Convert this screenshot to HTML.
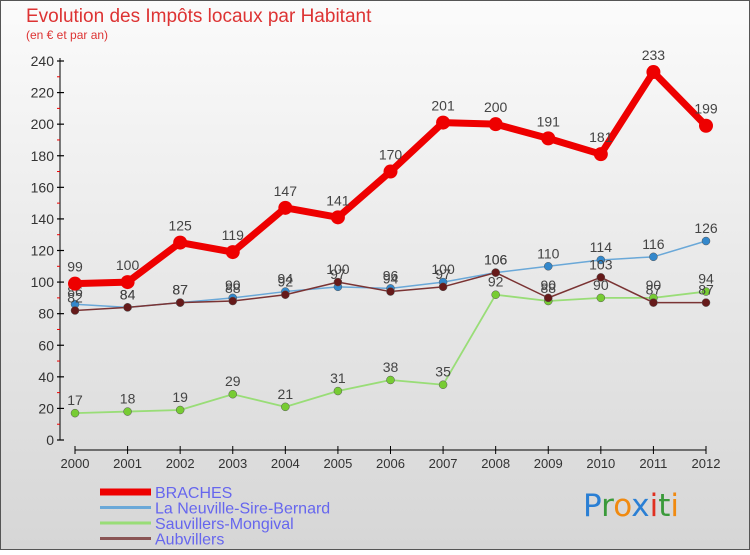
<!DOCTYPE html>
<html><head><meta charset="utf-8"><style>
body{margin:0;width:750px;height:550px;overflow:hidden;font-family:"Liberation Sans",sans-serif}
</style></head><body>
<svg id="c" width="750" height="550" xmlns="http://www.w3.org/2000/svg" font-family="'Liberation Sans',sans-serif">
<defs><linearGradient id="bg" x1="0" y1="0" x2="0" y2="1"><stop offset="0" stop-color="#fbfbfb"/><stop offset="1" stop-color="#d6d6d6"/></linearGradient></defs>
<rect x="0.5" y="0.5" width="749" height="549" fill="url(#bg)" stroke="#555"/>
<text x="26" y="22" font-size="19" fill="#d33">Evolution des Impôts locaux par Habitant</text>
<text x="26" y="39" font-size="12" fill="#d33">(en € et par an)</text>
<g id="axes"></g><g id="series"></g><g id="legend"></g>
<g font-size="31" font-family="'DejaVu Sans',sans-serif">
<text x="583" y="516"><tspan fill="#2a7fd4">P</tspan><tspan fill="#3a9a3a">r</tspan><tspan fill="#f08a10">o</tspan><tspan fill="#2a7fd4">x</tspan><tspan fill="#e03020">i</tspan><tspan fill="#3a9a3a">t</tspan><tspan fill="#f08a10">i</tspan></text>
</g>
</svg>
<script>
const years=["2000","2001","2002","2003","2004","2005","2006","2007","2008","2009","2010","2011","2012"];
const braches=[99,100,125,119,147,141,170,201,200,191,181,233,199];
const neuville=[86,84,87,90,94,97,96,100,106,110,114,116,126];
const sauvillers=[17,18,19,29,21,31,38,35,92,88,90,90,94];
const aubvillers=[82,84,87,88,92,100,94,97,106,90,103,87,87];
const yTicks=[0,20,40,60,80,100,120,140,160,180,200,220,240];
const names=["BRACHES","La Neuville-Sire-Bernard","Sauvillers-Mongival","Aubvillers"];
const NS="http://www.w3.org/2000/svg";
const xS=i=>75+i*(706-75)/12;
const yS=v=>440-v*(440-61)/240;
function mk(t,a,p){const e=document.createElementNS(NS,t);for(const k in a)e.setAttribute(k,a[k]);p.appendChild(e);return e;}
const ax=document.getElementById('axes');
const yl=mk('line',{x1:60,y1:58,x2:60,y2:440,stroke:'#000'},ax);


yTicks.forEach(v=>{const y=yS(v);
 mk('line',{x1:57,y1:y,x2:64,y2:y,stroke:'#000','stroke-width':1.2},ax);
 if(v<240)mk('line',{x1:57,y1:yS(v+10),x2:60,y2:yS(v+10),stroke:'#e00'},ax);
 const t=mk('text',{x:54,y:y+5,'font-size':14,fill:'#333','text-anchor':'end'},ax);t.textContent=v;
 
 });
const xl=mk('line',{x1:75,y1:450,x2:706,y2:450,stroke:'#000'},ax);


years.forEach((yr,i)=>{const x=xS(i);
 mk('line',{x1:x,y1:446,x2:x,y2:454,stroke:'#000'},ax);
 const t=mk('text',{x:x,y:468,'font-size':13,fill:'#333','text-anchor':'middle'},ax);t.textContent=yr;
 
 });
const sg=document.getElementById('series');
const defs=[[sauvillers,'#99dd77','#77cc33',1.8,4,'sauvillers'],[neuville,'#6aa8d8','#3388cc',1.5,4,'neuville'],[aubvillers,'#7a3333','#661a1a',1.5,4,'aubvillers'],[braches,'#ee0000','#ee0000',7,7,'braches']];
defs.forEach(([d,lc,pc,w,r,n])=>{
 const g=mk('g',{},sg);
 
 
 mk('polyline',{points:d.map((v,i)=>xS(i)+','+yS(v)).join(' '),fill:'none',stroke:lc,'stroke-width':w,'stroke-linejoin':'round'},g);
 d.forEach((v,i)=>{const c=mk('circle',{cx:xS(i),cy:yS(v),r:r,fill:pc,stroke:r>5?'none':'#555','stroke-width':0.5},g);
  
  
  const t=mk('text',{x:xS(i),y:yS(v)-(r>5?12:8),'font-size':14,fill:'#444','text-anchor':'middle'},g);t.textContent=v;
  
  });
});
const lg=document.getElementById('legend');
const lcs=['#ee0000','#6aa8d8','#99dd77','#8a5555'],lw=[7,3,3,3];
names.forEach((n,i)=>{const y=492+i*15.5;
 const g=mk('g',{},lg);
 
 
 mk('line',{x1:100,y1:y,x2:151,y2:y,stroke:lcs[i],'stroke-width':lw[i]},g);
 const t=mk('text',{x:155,y:y+6,'font-size':16,fill:'#6666ee'},g);t.textContent=n;});
</script>
</body></html>
